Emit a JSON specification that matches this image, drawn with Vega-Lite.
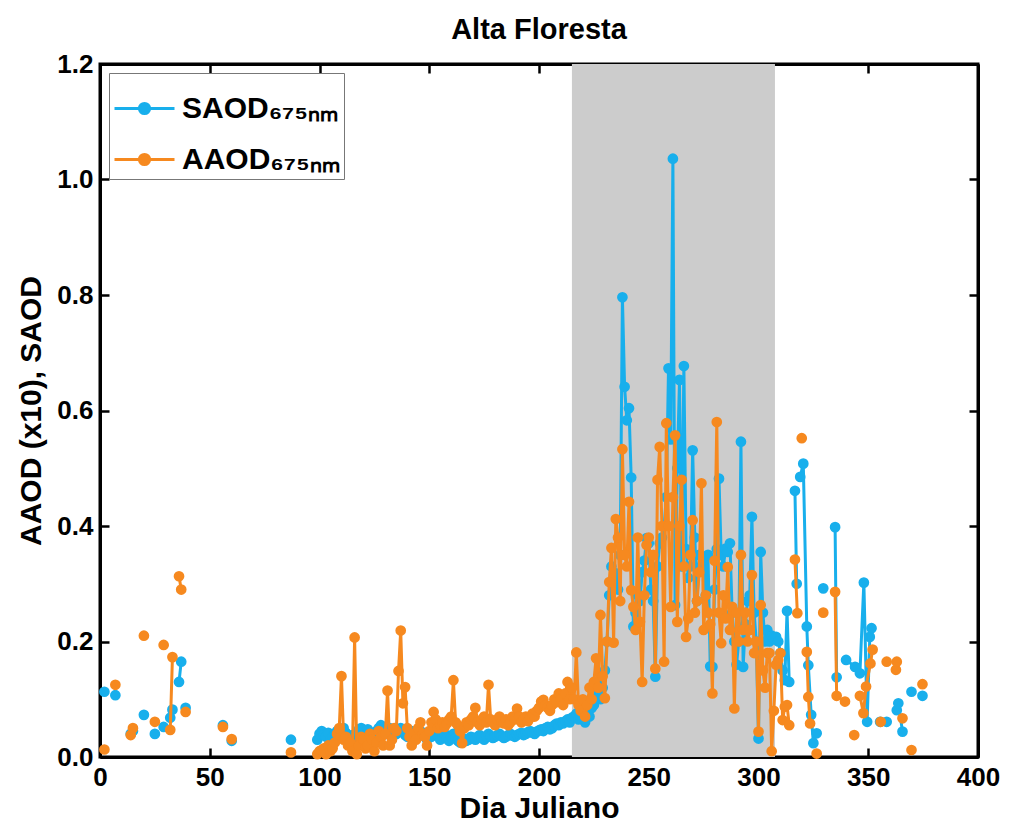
{
"$schema":"https://vega.github.io/schema/vega-lite/v6.json",
"autosize":{"type":"none"},
"padding":{"left":100,"top":64,"right":31,"bottom":70},
"width":878,"height":693,
"background":"white",
"title":{"text":"Alta Floresta","fontSize":29,"font":"Liberation Sans","fontWeight":"bold","color":"black","offset":6},
"config":{
 "view":{"stroke":"black","strokeWidth":3},
 "axis":{"labelFont":"Liberation Sans","labelFontSize":26,"labelFontWeight":"bold","labelColor":"black","titleFont":"Liberation Sans","titleFontSize":30,"titleFontWeight":"bold","titleColor":"black","domainColor":"black","domainWidth":3,"tickColor":"black","tickWidth":2.5,"tickSize":-9,"grid":false,"labelFlush":false,"zindex":1},
 "legend":{"labelFont":"Liberation Sans","labelFontSize":30,"labelFontWeight":"bold","labelColor":"black"}
},
"datasets":{
"shade":[{"a":215,"b":307.5}],
"S":[{"d":2,"v":0.113},{"d":3,"v":null},{"d":7,"v":0.107},{"d":8,"v":null},{"d":14,"v":0.04},{"d":15,"v":0.045},{"d":16,"v":null},{"d":20,"v":0.073},{"d":21,"v":null},{"d":25,"v":0.04},{"d":26,"v":null},{"d":29,"v":0.052},{"d":30,"v":null},{"d":32,"v":0.068},{"d":33,"v":0.082},{"d":34,"v":null},{"d":36,"v":0.13},{"d":37,"v":0.165},{"d":38,"v":null},{"d":39,"v":0.085},{"d":40,"v":null},{"d":56,"v":0.055},{"d":57,"v":null},{"d":60,"v":0.028},{"d":61,"v":null},{"d":87,"v":0.03},{"d":88,"v":null},
{"d":99,"v":0.03},{"d":100,"v":0.04},{"d":101,"v":0.045},{"d":102,"v":0.038},{"d":103,"v":0.035},{"d":104,"v":0.042},{"d":105,"v":0.03},{"d":106,"v":0.035},{"d":107,"v":0.04},{"d":108,"v":0.045},{"d":109,"v":0.038},{"d":110,"v":0.04},{"d":111,"v":0.05},{"d":112,"v":0.042},{"d":113,"v":0.035},{"d":114,"v":0.03},{"d":115,"v":0.038},{"d":116,"v":0.033},{"d":117,"v":0.04},{"d":118,"v":0.048},{"d":119,"v":0.05},{"d":120,"v":0.045},{"d":121,"v":0.042},{"d":122,"v":0.048},{"d":123,"v":0.04},{"d":124,"v":0.035},{"d":125,"v":0.04},{"d":126,"v":0.045},{"d":127,"v":0.05},{"d":128,"v":0.055},{"d":129,"v":0.048},{"d":130,"v":0.04},{"d":131,"v":0.045},{"d":132,"v":0.05},{"d":133,"v":0.042},{"d":134,"v":0.038},{"d":135,"v":0.04},{"d":136,"v":0.045},{"d":137,"v":0.05},{"d":138,"v":0.043},{"d":139,"v":0.038},{"d":140,"v":0.035},{"d":141,"v":0.04},{"d":142,"v":0.045},{"d":143,"v":0.04},{"d":144,"v":0.035},{"d":145,"v":0.04},{"d":146,"v":0.045},{"d":147,"v":0.042},{"d":148,"v":0.035},{"d":149,"v":0.03},{"d":150,"v":0.04},
{"d":151,"v":0.035},{"d":152,"v":0.04},{"d":153,"v":0.045},{"d":154,"v":0.038},{"d":155,"v":0.03},{"d":156,"v":0.035},{"d":157,"v":0.04},{"d":158,"v":0.032},{"d":159,"v":0.028},{"d":160,"v":0.035},{"d":161,"v":0.04},{"d":162,"v":0.033},{"d":163,"v":0.028},{"d":164,"v":0.025},{"d":165,"v":0.03},{"d":166,"v":0.032},{"d":167,"v":0.028},{"d":168,"v":0.03},{"d":169,"v":0.035},{"d":170,"v":0.033},{"d":171,"v":0.03},{"d":172,"v":0.035},{"d":173,"v":0.038},{"d":174,"v":0.033},{"d":175,"v":0.03},{"d":176,"v":0.035},{"d":177,"v":0.04},{"d":178,"v":0.036},{"d":179,"v":0.033},{"d":180,"v":0.035},{"d":181,"v":0.038},{"d":182,"v":0.04},{"d":183,"v":0.036},{"d":184,"v":0.033},{"d":185,"v":0.035},{"d":186,"v":0.038},{"d":187,"v":0.04},{"d":188,"v":0.037},{"d":189,"v":0.035},{"d":190,"v":0.038},{"d":191,"v":0.04},{"d":192,"v":0.042},{"d":193,"v":0.038},{"d":194,"v":0.04},{"d":195,"v":0.043},{"d":196,"v":0.045},{"d":197,"v":0.042},{"d":198,"v":0.04},{"d":199,"v":0.044},{"d":200,"v":0.046},{"d":201,"v":0.048},{"d":202,"v":0.045},{"d":203,"v":0.05},{"d":204,"v":0.052},{"d":205,"v":0.048},{"d":206,"v":0.05},{"d":207,"v":0.055},{"d":208,"v":0.058},{"d":209,"v":0.055},{"d":210,"v":0.06},{"d":211,"v":0.058},{"d":212,"v":0.062},{"d":213,"v":0.065},{"d":214,"v":0.06},{"d":215,"v":0.068},
{"d":216,"v":0.07},{"d":217,"v":0.075},{"d":218,"v":0.065},{"d":219,"v":0.07},{"d":220,"v":0.08},{"d":221,"v":0.06},{"d":222,"v":0.075},{"d":223,"v":0.07},{"d":224,"v":0.085},{"d":225,"v":0.09},{"d":226,"v":0.11},{"d":227,"v":0.13},{"d":228,"v":0.1},{"d":229,"v":0.12},{"d":230,"v":0.15},{"d":231,"v":0.2},{"d":232,"v":0.28},{"d":233,"v":0.33},{"d":234,"v":0.3},{"d":235,"v":0.318},{"d":236,"v":0.29},{"d":237,"v":0.35},{"d":238,"v":0.796},{"d":239,"v":0.641},{"d":240,"v":0.583},{"d":241,"v":0.604},{"d":242,"v":0.484},{"d":243,"v":0.226},{"d":244,"v":0.25},{"d":245,"v":0.28},{"d":246,"v":0.27},{"d":247,"v":0.32},{"d":248,"v":0.34},{"d":249,"v":0.379},{"d":250,"v":0.37},{"d":251,"v":0.29},{"d":252,"v":0.27},{"d":253,"v":0.139},{"d":254,"v":0.33},{"d":255,"v":0.37},{"d":256,"v":0.38},{"d":257,"v":0.4},{"d":258,"v":0.45},{"d":259,"v":0.673},{"d":260,"v":0.55},{"d":261,"v":1.036},{"d":262,"v":0.263},{"d":263,"v":0.5},{"d":264,"v":0.653},{"d":265,"v":0.33},{"d":266,"v":0.677},{"d":267,"v":0.36},{"d":268,"v":0.31},{"d":269,"v":0.33},{"d":270,"v":0.531},{"d":271,"v":0.38},{"d":272,"v":0.27},{"d":273,"v":0.35},{"d":274,"v":0.33},{"d":275,"v":0.34},{"d":276,"v":0.28},{"d":277,"v":0.35},{"d":278,"v":0.157},{"d":279,"v":0.156},{"d":280,"v":0.29},{"d":281,"v":0.36},{"d":282,"v":0.482},{"d":283,"v":0.35},{"d":284,"v":0.33},{"d":285,"v":0.361},{"d":286,"v":0.355},{"d":287,"v":0.37},{"d":288,"v":0.25},{"d":289,"v":0.2},{"d":290,"v":0.16},{"d":291,"v":0.2},{"d":292,"v":0.546},{"d":293,"v":0.156},{"d":294,"v":0.23},{"d":295,"v":0.27},{"d":296,"v":0.28},{"d":297,"v":0.416},{"d":298,"v":0.25},{"d":299,"v":0.2},{"d":300,"v":0.032},{"d":301,"v":0.355},{"d":302,"v":0.25},{"d":303,"v":0.2},{"d":304,"v":0.22},{"d":305,"v":0.2},{"d":306,"v":0.21},{"d":307,"v":0.205},{"d":308,"v":0.208},{"d":309,"v":0.2},{"d":310,"v":0.18},{"d":311,"v":0.15},{"d":312,"v":0.133},{"d":313,"v":0.253},{"d":314,"v":0.13},{"d":315,"v":null},
{"d":316.6,"v":0.461},{"d":317.4,"v":0.3},{"d":318,"v":null},{"d":319,"v":0.485},{"d":320.4,"v":0.508},{"d":322,"v":0.226},{"d":322.7,"v":0.159},{"d":324,"v":0.073},{"d":325,"v":0.024},{"d":326.5,"v":0.041},{"d":327,"v":null},{"d":329.5,"v":0.292},{"d":330,"v":null},{"d":334.9,"v":0.398},{"d":335.6,"v":0.138},{"d":336.5,"v":null},{"d":339.9,"v":0.168},{"d":344,"v":0.156},{"d":346.2,"v":0.145},{"d":348,"v":0.302},{"d":349.5,"v":0.061},{"d":350.7,"v":0.208},{"d":351.5,"v":0.223},{"d":352,"v":null},{"d":355.4,"v":0.061},{"d":358.4,"v":0.061},{"d":359,"v":null},{"d":363,"v":0.081},{"d":363.7,"v":0.093},{"d":365.6,"v":0.044},{"d":366,"v":null},{"d":369.7,"v":0.113},{"d":370,"v":null},{"d":374.7,"v":0.106}],
"A":[{"d":2,"v":0.013},{"d":3,"v":null},{"d":7,"v":0.125},{"d":8,"v":null},{"d":14,"v":0.038},{"d":15,"v":0.05},{"d":16,"v":null},{"d":20,"v":0.21},{"d":21,"v":null},{"d":25,"v":0.061},{"d":26,"v":null},{"d":29,"v":0.194},{"d":30,"v":null},{"d":32,"v":0.047},{"d":33,"v":0.173},{"d":34,"v":null},{"d":36,"v":0.313},{"d":37,"v":0.29},{"d":38,"v":null},{"d":39,"v":0.078},{"d":40,"v":null},{"d":56,"v":0.052},{"d":57,"v":null},{"d":60,"v":0.031},{"d":61,"v":null},{"d":87,"v":0.008},{"d":88,"v":null},
{"d":99,"v":0.005},{"d":100,"v":0.01},{"d":101,"v":0.012},{"d":102,"v":0.015},{"d":103,"v":0.005},{"d":104,"v":0.02},{"d":105,"v":0.01},{"d":106,"v":0.015},{"d":107,"v":0.025},{"d":108,"v":0.04},{"d":109,"v":0.05},{"d":110,"v":0.14},{"d":111,"v":0.03},{"d":112,"v":0.035},{"d":113,"v":0.02},{"d":114,"v":0.025},{"d":115,"v":0.01},{"d":116,"v":0.207},{"d":117,"v":0.005},{"d":118,"v":0.02},{"d":119,"v":0.035},{"d":120,"v":0.03},{"d":121,"v":0.015},{"d":122,"v":0.02},{"d":123,"v":0.04},{"d":124,"v":0.03},{"d":125,"v":0.01},{"d":126,"v":0.025},{"d":127,"v":0.045},{"d":128,"v":0.035},{"d":129,"v":0.02},{"d":130,"v":0.04},{"d":131,"v":0.115},{"d":132,"v":0.02},{"d":133,"v":0.03},{"d":134,"v":0.05},{"d":135,"v":0.045},{"d":136,"v":0.149},{"d":137,"v":0.219},{"d":138,"v":0.093},{"d":139,"v":0.121},{"d":140,"v":0.05},{"d":141,"v":0.035},{"d":142,"v":0.02},{"d":143,"v":0.04},{"d":144,"v":0.03},{"d":145,"v":0.05},{"d":146,"v":0.06},{"d":147,"v":0.04},{"d":148,"v":0.035},{"d":149,"v":0.02},{"d":150,"v":0.045},
{"d":151,"v":0.06},{"d":152,"v":0.078},{"d":153,"v":0.065},{"d":154,"v":0.05},{"d":155,"v":0.055},{"d":156,"v":0.06},{"d":157,"v":0.052},{"d":158,"v":0.058},{"d":159,"v":0.065},{"d":160,"v":0.07},{"d":161,"v":0.133},{"d":162,"v":0.06},{"d":163,"v":0.055},{"d":164,"v":0.045},{"d":165,"v":0.024},{"d":166,"v":0.05},{"d":167,"v":0.06},{"d":168,"v":0.055},{"d":169,"v":0.065},{"d":170,"v":0.07},{"d":171,"v":0.085},{"d":172,"v":0.06},{"d":173,"v":0.055},{"d":174,"v":0.065},{"d":175,"v":0.07},{"d":176,"v":0.06},{"d":177,"v":0.125},{"d":178,"v":0.065},{"d":179,"v":0.06},{"d":180,"v":0.055},{"d":181,"v":0.065},{"d":182,"v":0.07},{"d":183,"v":0.06},{"d":184,"v":0.058},{"d":185,"v":0.065},{"d":186,"v":0.055},{"d":187,"v":0.06},{"d":188,"v":0.07},{"d":189,"v":0.065},{"d":190,"v":0.084},{"d":191,"v":0.07},{"d":192,"v":0.06},{"d":193,"v":0.065},{"d":194,"v":0.07},{"d":195,"v":0.062},{"d":196,"v":0.068},{"d":197,"v":0.075},{"d":198,"v":0.07},{"d":199,"v":0.08},{"d":200,"v":0.085},{"d":201,"v":0.096},{"d":202,"v":0.099},{"d":203,"v":0.09},{"d":204,"v":0.085},{"d":205,"v":0.08},{"d":206,"v":0.09},{"d":207,"v":0.1},{"d":208,"v":0.095},{"d":209,"v":0.11},{"d":210,"v":0.1},{"d":211,"v":0.09},{"d":212,"v":0.11},{"d":213,"v":0.13},{"d":214,"v":0.1},{"d":215,"v":0.12},
{"d":216,"v":0.1},{"d":217,"v":0.181},{"d":218,"v":0.09},{"d":219,"v":0.08},{"d":220,"v":0.1},{"d":221,"v":0.07},{"d":222,"v":0.09},{"d":223,"v":0.12},{"d":224,"v":0.1},{"d":225,"v":0.13},{"d":226,"v":0.171},{"d":227,"v":0.12},{"d":228,"v":0.246},{"d":229,"v":0.14},{"d":230,"v":0.102},{"d":231,"v":0.2},{"d":232,"v":0.303},{"d":233,"v":0.362},{"d":234,"v":0.198},{"d":235,"v":0.412},{"d":236,"v":0.38},{"d":237,"v":0.27},{"d":238,"v":0.533},{"d":239,"v":0.35},{"d":240,"v":0.33},{"d":241,"v":0.442},{"d":242,"v":0.289},{"d":243,"v":0.26},{"d":244,"v":0.22},{"d":245,"v":0.38},{"d":246,"v":0.234},{"d":247,"v":0.13},{"d":248,"v":0.28},{"d":249,"v":0.367},{"d":250,"v":0.38},{"d":251,"v":0.32},{"d":252,"v":0.35},{"d":253,"v":0.153},{"d":254,"v":0.48},{"d":255,"v":0.537},{"d":256,"v":0.4},{"d":257,"v":0.165},{"d":258,"v":0.578},{"d":259,"v":0.4},{"d":260,"v":0.26},{"d":261,"v":0.45},{"d":262,"v":0.557},{"d":263,"v":0.234},{"d":264,"v":0.4},{"d":265,"v":0.48},{"d":266,"v":0.33},{"d":267,"v":0.208},{"d":268,"v":0.24},{"d":269,"v":0.35},{"d":270,"v":0.41},{"d":271,"v":0.25},{"d":272,"v":0.27},{"d":273,"v":0.32},{"d":274,"v":0.474},{"d":275,"v":0.22},{"d":276,"v":0.28},{"d":277,"v":0.25},{"d":278,"v":0.23},{"d":279,"v":0.11},{"d":280,"v":0.34},{"d":281,"v":0.58},{"d":282,"v":0.25},{"d":283,"v":0.197},{"d":284,"v":0.28},{"d":285,"v":0.24},{"d":286,"v":0.329},{"d":287,"v":0.22},{"d":288,"v":0.26},{"d":289,"v":0.084},{"d":290,"v":0.25},{"d":291,"v":0.2},{"d":292,"v":0.35},{"d":293,"v":0.22},{"d":294,"v":0.25},{"d":295,"v":0.2},{"d":296,"v":0.22},{"d":297,"v":0.315},{"d":298,"v":0.18},{"d":299,"v":0.2},{"d":300,"v":0.044},{"d":301,"v":0.263},{"d":302,"v":0.15},{"d":303,"v":0.12},{"d":304,"v":0.18},{"d":305,"v":0.18},{"d":306,"v":0.01},{"d":307,"v":0.08},{"d":308,"v":0.16},{"d":309,"v":0.168},{"d":310,"v":0.18},{"d":311,"v":0.064},{"d":312,"v":0.087},{"d":313,"v":0.09},{"d":314,"v":0.055},{"d":315,"v":null},
{"d":316.6,"v":0.342},{"d":317.7,"v":0.249},{"d":318.5,"v":null},{"d":319.7,"v":0.552},{"d":320.5,"v":null},{"d":322,"v":0.182},{"d":322.7,"v":0.104},{"d":323.5,"v":0.058},{"d":324.5,"v":null},{"d":326.5,"v":0.006},{"d":327,"v":null},{"d":329.5,"v":0.25},{"d":330,"v":null},{"d":334.9,"v":0.286},{"d":335.6,"v":0.106},{"d":336.5,"v":null},{"d":339.4,"v":0.096},{"d":340,"v":null},{"d":343.6,"v":0.038},{"d":344.5,"v":null},{"d":346.2,"v":0.106},{"d":347.8,"v":0.076},{"d":349,"v":0.122},{"d":351,"v":0.162},{"d":352,"v":0.186},{"d":353,"v":null},{"d":355.7,"v":0.061},{"d":356.5,"v":null},{"d":358.4,"v":0.165},{"d":359,"v":null},{"d":362.6,"v":0.151},{"d":363,"v":0.165},{"d":364,"v":null},{"d":365.6,"v":0.067},{"d":366,"v":null},{"d":369.7,"v":0.012},{"d":370,"v":null},{"d":374.7,"v":0.126}]
},
"layer":[
 {"data":{"name":"shade"},"mark":{"type":"rect","color":"#CCCCCC"},
  "encoding":{"x":{"field":"a","type":"quantitative","scale":{"domain":[0,400],"nice":false},"axis":null},"x2":{"field":"b"}}},
 {"data":{"name":"S"},"mark":{"type":"line","strokeWidth":3,"point":{"filled":true,"size":115,"opacity":1}},
  "encoding":{
   "x":{"field":"d","type":"quantitative","scale":{"domain":[0,400],"nice":false},"axis":{"values":[0,50,100,150,200,250,300,350,400],"title":"Dia Juliano","labelPadding":16,"titlePadding":3,"orient":"bottom"}},
   "y":{"field":"v","type":"quantitative","scale":{"domain":[0,1.2],"nice":false},"axis":{"values":[0,0.2,0.4,0.6,0.8,1.0,1.2],"format":".1f","title":"AAOD (x10), SAOD","labelPadding":16,"titlePadding":10,"orient":"left"}},
   "color":{"datum":"SAOD₆₇₅ₙₘ","type":"nominal","scale":{"domain":["SAOD₆₇₅ₙₘ","AAOD₆₇₅ₙₘ"],"range":["#18AFEC","#F6891F"]},
    "legend":{"title":null,"orient":"top-left","offset":9,"padding":4,"rowPadding":4,"strokeColor":"#777777","fillColor":"white","symbolType":"M-1,0H1M-0.17,0A0.17,0.17,0,1,1,0.17,0A0.17,0.17,0,1,1,-0.17,0","symbolSize":3600,"symbolStrokeWidth":3,"labelOffset":6,
     "encode":{"symbols":{"update":{"fill":{"scale":"color","field":"value"},"stroke":{"scale":"color","field":"value"},"opacity":{"value":1}}}}}}
  }},
 {"data":{"name":"A"},"mark":{"type":"line","strokeWidth":3,"point":{"filled":true,"size":115,"opacity":1}},
  "encoding":{
   "x":{"field":"d","type":"quantitative","axis":{"values":[0,50,100,150,200,250,300,350,400],"labels":false,"title":null,"orient":"top"}},
   "y":{"field":"v","type":"quantitative","axis":{"values":[0,0.2,0.4,0.6,0.8,1.0,1.2],"labels":false,"title":null,"orient":"right"}},
   "color":{"datum":"AAOD₆₇₅ₙₘ","type":"nominal"}
  }}
],
"resolve":{"axis":{"x":"independent","y":"independent"}}
}
